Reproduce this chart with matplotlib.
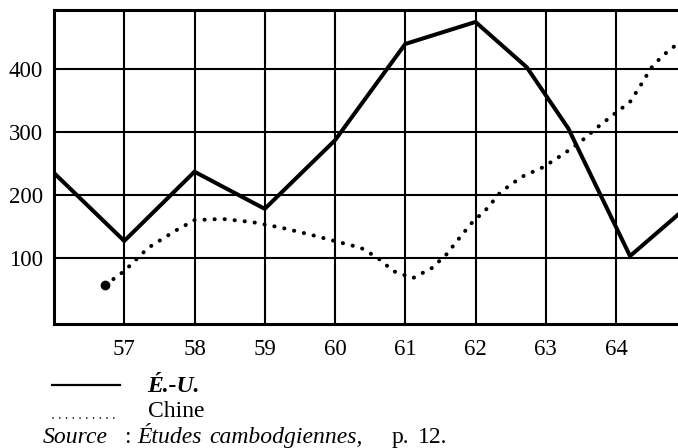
import matplotlib
matplotlib.use("Agg")
import matplotlib.pyplot as plt
from matplotlib.lines import Line2D

plt.rcParams['font.family'] = ['Liberation Serif', 'DejaVu Serif']

# ---- data ----
years = [57, 58, 59, 60, 61, 62, 63, 64]
year_labels = ['57', '58', '59', '60', '61', '62', '63', '64']
y_ticks = [100, 200, 300, 400]
y_labels = ['100', '200', '300', '400']

eu_x = [56, 57, 58, 59, 60, 61, 62, 62.73, 63.32, 64.2, 65]
eu_y = [235, 127, 237, 178, 287, 440, 475, 403, 306, 103, 180]

chine_x = [56.73, 57.0, 57.34, 57.74, 58.0, 58.39, 58.82, 59.24, 59.65, 60.06,
           60.37, 60.61, 60.83, 61.11, 61.38, 61.59, 61.78, 61.95, 62.16, 62.36,
           62.66, 62.96, 63.25, 63.49, 63.74, 63.99, 64.2, 64.36, 64.5, 64.67,
           64.85, 65.0]
chine_y = [57, 79, 116, 144, 160, 162, 157, 148, 137, 125,
           116, 100, 79, 68, 84, 106, 133, 156, 178, 205,
           229, 244, 265, 284, 308, 330, 348, 376, 402, 422,
           438, 452]

legend_labels = ['É.-U.', 'Chine']

W, H = 678, 448
fig = plt.figure(figsize=(W / 100, H / 100), dpi=100)

def fx(px):
    return px / W

def fy(py):
    return 1 - py / H

ax = fig.add_axes([fx(54), fy(324), fx(678 - 54), (324 - 10) / H])
ax.set_xlim(56, 56 + (678 - 54) / 70.25)
ax.set_ylim(-5, 494)

ax.plot(eu_x, eu_y, color='black', lw=2.9, solid_joinstyle='miter', zorder=3)
ax.plot(chine_x, chine_y, color='black', lw=2.9,
        linestyle=(0, (0.05, 2.45)), dash_capstyle='round', zorder=3)
ax.plot(chine_x[:1], chine_y[:1], 'o', color='black', ms=6, zorder=4)

ax.set_xticks(years)
ax.set_xticklabels(year_labels)
ax.set_yticks(y_ticks)
ax.set_yticklabels(y_labels)
ax.tick_params(length=0, labelsize=16.5)
ax.tick_params(axis='x', pad=11)
ax.tick_params(axis='y', pad=8)
ax.grid(True, color='black', lw=1.5)
ax.set_axisbelow(True)
for s in ['left', 'top', 'bottom']:
    ax.spines[s].set_linewidth(2.2)
ax.spines['right'].set_visible(False)

# ---- legend ----
fig.add_artist(Line2D([fx(52), fx(120)], [fy(385), fy(385)], color='black',
                      lw=1.6, transform=fig.transFigure))
fig.add_artist(Line2D([fx(53), fx(120)], [fy(418), fy(418)], color='black',
                      lw=1.2, linestyle=(0, (0.05, 4.0)), dash_capstyle='round',
                      transform=fig.transFigure))
fig.text(fx(147), fy(392), legend_labels[0], fontsize=17, fontstyle='italic',
         fontweight='bold', va='baseline', ha='left')
fig.text(fx(148), fy(417), legend_labels[1], fontsize=17, va='baseline', ha='left')

# ---- source ----
src = [('Source', 'italic', 43), (':', 'normal', 124), ('Études', 'italic', 137),
       ('cambodgiennes,', 'italic', 209), ('p.', 'normal', 392), ('12.', 'normal', 418)]
for txt, st, x in src:
    fig.text(fx(x), fy(443), txt, fontsize=17, fontstyle=st, va='baseline', ha='left')

fig.savefig('out.png', dpi=100)
